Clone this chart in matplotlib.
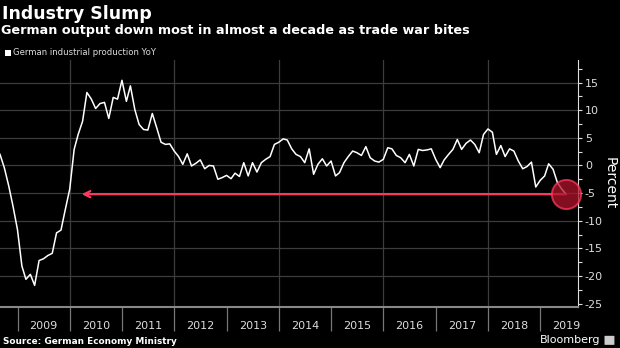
import matplotlib
matplotlib.use("Agg")
import matplotlib.pyplot as plt
from matplotlib.patches import Rectangle, FancyBboxPatch
import pandas as pd

# German industrial production, % change year on year, Aug 2008 - Jun 2019
ip_yoy = [
    2.0, -0.4, -3.7, -7.4, -11.6,                                          # 2008
    -18.2, -20.6, -19.7, -21.7, -17.2, -16.9, -16.3, -15.9, -12.2, -11.7, -8.0, -4.3,   # 2009
    2.9, 5.6, 8.0, 13.2, 12.0, 10.3, 11.2, 11.4, 8.5, 12.3, 12.0, 15.4,     # 2010
    11.6, 14.4, 10.1, 7.4, 6.5, 6.4, 9.4, 6.8, 4.2, 3.8, 3.9, 2.6,          # 2011
    1.6, 0.2, 2.1, -0.1, 0.4, 1.0, -0.6, 0.0, -0.1, -2.5, -2.2, -1.8,       # 2012
    -2.4, -1.4, -2.0, 0.5, -1.9, 0.5, -1.2, 0.5, 1.1, 1.6, 3.8, 4.2,        # 2013
    4.8, 4.6, 3.0, 2.0, 1.6, 0.5, 3.0, -1.6, 0.2, 1.2, -0.1, 0.8,           # 2014
    -1.9, -1.3, 0.5, 1.6, 2.6, 2.3, 1.8, 3.4, 1.4, 0.8, 0.6, 1.1,           # 2015
    3.2, 3.0, 1.8, 1.4, 0.5, 2.0, -0.1, 2.9, 2.7, 2.8, 3.0, 1.1,            # 2016
    -0.4, 1.0, 2.0, 2.9, 4.7, 2.9, 4.0, 4.6, 3.8, 2.3, 5.6, 6.6,            # 2017
    6.0, 2.0, 3.6, 1.6, 3.0, 2.6, 0.8, -0.6, -0.2, 0.6, -3.9, -2.7,         # 2018
    -1.9, 0.3, -0.7, -3.1, -4.3, -5.2,                                      # 2019
]
months = pd.date_range("2008-08-31", "2019-06-30", freq="ME")
years = list(range(2009, 2020))
grid_years = [2010, 2012, 2014, 2016, 2018]
y_ticks = [-25, -20, -15, -10, -5, 0, 5, 10, 15]

BG = "#000000"
GRID = "#3c3c3c"
RED = "#ff3a5c"

fig = plt.figure(figsize=(6.2, 3.48), dpi=100, facecolor=BG)
ax = fig.add_axes([0.0, 0.118, 0.932, 0.710], facecolor=BG)

ax.plot(months, ip_yoy, color="white", lw=1.1, zorder=3)

# gridlines
for y in y_ticks[1:]:
    ax.axhline(y, color=GRID, lw=0.9, zorder=1)
for yr in grid_years:
    ax.axvline(pd.Timestamp(f"{yr}-01-01"), color=GRID, lw=0.9, zorder=1)

ax.set_xlim(pd.Timestamp("2008-08-31"), pd.Timestamp("2019-09-20"))
ax.set_ylim(-25.6, 19.1)

# x axis: ticks at year boundaries, labels centred on each year
ax.set_xticks([pd.Timestamp(f"{y}-01-01") for y in years])
ax.set_xticklabels([])
ax.set_xticks([pd.Timestamp(f"{y}-07-02") for y in years], minor=True)
ax.set_xticklabels([str(y) for y in years], minor=True)
ax.tick_params(axis="x", which="major", length=17, width=0.9, color="#777777",
               direction="out")
ax.tick_params(axis="x", which="minor", length=0, pad=10, labelsize=8,
               labelcolor="#dddddd")

# y axis on the right
ax.yaxis.tick_right()
ax.yaxis.set_label_position("right")
ax.set_yticks(y_ticks)
ax.set_yticklabels([str(v) for v in y_ticks])
ax.set_yticks([v + 2.5 for v in y_ticks[:-1]] + [17.5], minor=True)
ax.tick_params(axis="y", which="both", length=3, width=0.8, color="#dddddd",
               labelsize=8, labelcolor="#dddddd", pad=2)
ax.set_ylabel("Percent", color="white", fontsize=10, rotation=270, labelpad=10)

for side in ["top", "left"]:
    ax.spines[side].set_visible(False)
ax.spines["right"].set_color("#dddddd")
ax.spines["right"].set_linewidth(0.8)
ax.spines["bottom"].set_color("#888888")
ax.spines["bottom"].set_linewidth(1.5)

# arrow from the latest reading back to early 2010
last_date, last_val = months[-1], ip_yoy[-1]
ax.annotate("", xy=(pd.Timestamp("2010-03-25"), last_val), xytext=(last_date, last_val),
            arrowprops=dict(arrowstyle="->", color=RED, lw=1.6, mutation_scale=11,
                            shrinkA=0, shrinkB=0), zorder=4)
ax.plot([last_date], [last_val], marker="o", ms=21, mfc="#b0142c", mec=RED,
        mew=1.4, alpha=0.75, zorder=5, clip_on=False)

# header
fig.text(0.004, 0.960, "Industry Slump", color="white", fontsize=12.5,
         fontweight="bold", va="center", ha="left")
fig.text(0.002, 0.911, "German output down most in almost a decade as trade war bites",
         color="white", fontsize=9.2, fontweight="bold", va="center", ha="left")
fig.patches.append(Rectangle((0.008, 0.840), 0.009, 0.016, transform=fig.transFigure,
                             facecolor="white", edgecolor="none"))
fig.text(0.021, 0.849, "German industrial production YoY", color="#dddddd",
         fontsize=6.1, va="center", ha="left")

# footer
fig.text(0.005, 0.018, "Source: German Economy Ministry", color="white",
         fontsize=6.4, fontweight="bold", va="center", ha="left")
fig.text(0.968, 0.022, "Bloomberg", color="white", fontsize=8, va="center",
         ha="right")
fig.patches.append(FancyBboxPatch((0.976, 0.010), 0.014, 0.024,
                                  boxstyle="round,pad=0.001", transform=fig.transFigure,
                                  facecolor="#cccccc", edgecolor="none"))

fig.savefig("out.png", dpi=100, facecolor=BG)
